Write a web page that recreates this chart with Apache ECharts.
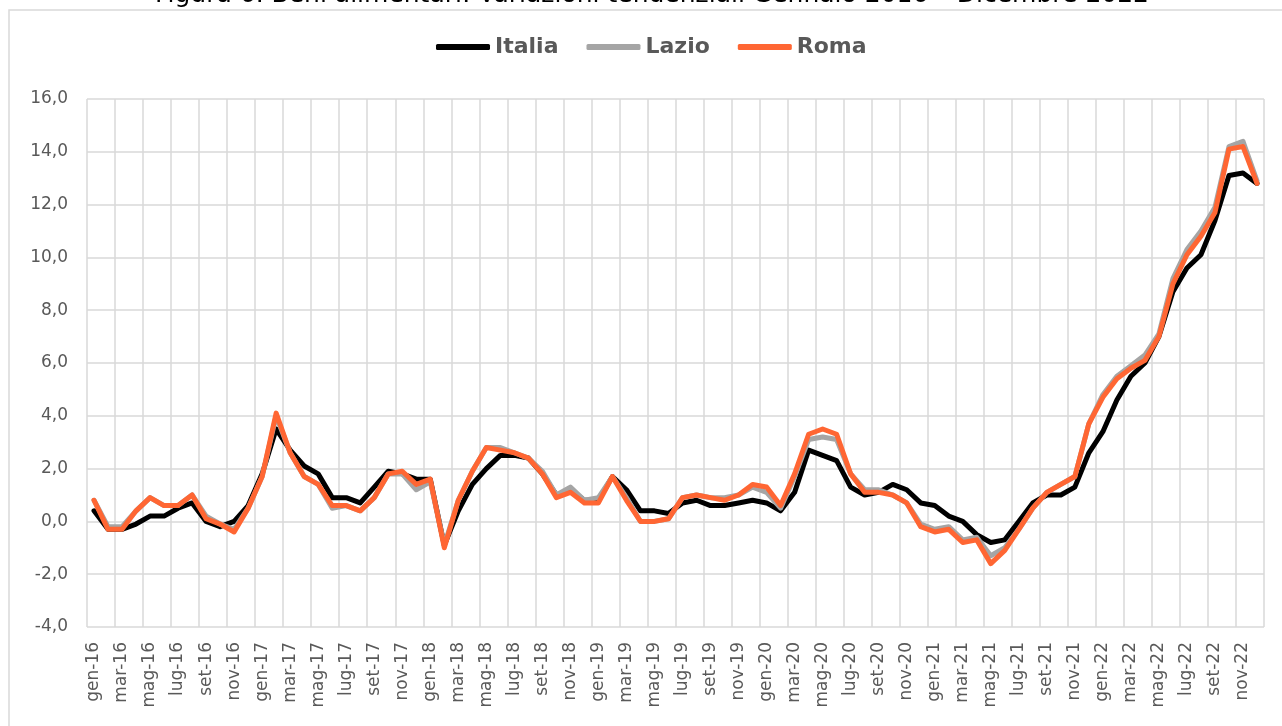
<!DOCTYPE html>
<html>
<head>
<meta charset="utf-8">
<script src="https://cdn.jsdelivr.net/npm/echarts@6/dist/echarts.min.js"></script>
<style>
html,body{margin:0;padding:0;background:#fff;}
#chart{width:1282px;height:726px;}
</style>
</head>
<body>
<div id="chart"></div>
<script>
const monthNames = ['gen','feb','mar','apr','mag','giu','lug','ago','set','ott','nov','dic'];
const years = ['16','17','18','19','20','21','22'];
const categories = [];
years.forEach(y => monthNames.forEach(m => categories.push(m + '-' + y)));

const titleText = 'Figura 6. Beni alimentari: Variazioni tendenziali Gennaio 2016 – Dicembre 2022';
const seriesNames = ['Italia', 'Lazio', 'Roma'];

const italia = [
  0.4, -0.3, -0.3, -0.1, 0.2, 0.2, 0.5, 0.7, 0.0, -0.2, 0.0, 0.6,
  1.8, 3.5, 2.7, 2.1, 1.8, 0.9, 0.9, 0.7, 1.3, 1.9, 1.8, 1.6,
  1.6, -0.9, 0.4, 1.4, 2.0, 2.5, 2.5, 2.4, 1.8, 1.0, 1.2, 0.8,
  0.8, 1.7, 1.2, 0.4, 0.4, 0.3, 0.7, 0.8, 0.6, 0.6, 0.7, 0.8,
  0.7, 0.4, 1.1, 2.7, 2.5, 2.3, 1.3, 1.0, 1.1, 1.4, 1.2, 0.7,
  0.6, 0.2, 0.0, -0.5, -0.8, -0.7, 0.0, 0.7, 1.0, 1.0, 1.3, 2.6,
  3.4, 4.6, 5.5, 6.0, 7.0, 8.7, 9.6, 10.1, 11.4, 13.1, 13.2, 12.8
];
const lazio = [
  0.8, -0.2, -0.2, 0.4, 0.9, 0.6, 0.6, 1.0, 0.2, -0.1, -0.3, 0.5,
  1.7, 4.0, 2.6, 1.7, 1.4, 0.5, 0.6, 0.4, 0.9, 1.8, 1.8, 1.2,
  1.5, -0.9, 0.8, 1.9, 2.8, 2.8, 2.6, 2.4, 1.9, 1.0, 1.3, 0.8,
  0.9, 1.7, 0.9, 0.0, 0.0, 0.1, 0.9, 1.0, 0.9, 0.9, 1.0, 1.3,
  1.1, 0.5, 1.7, 3.1, 3.2, 3.1, 1.8, 1.2, 1.2, 1.0, 0.7, -0.1,
  -0.3, -0.2, -0.7, -0.6, -1.3, -1.0, -0.3, 0.5, 1.1, 1.4, 1.7, 3.7,
  4.8, 5.5, 5.9, 6.3, 7.1, 9.2, 10.3, 11.0, 11.9, 14.2, 14.4, 12.9
];
const roma = [
  0.8, -0.3, -0.3, 0.4, 0.9, 0.6, 0.6, 1.0, 0.1, -0.1, -0.4, 0.5,
  1.7, 4.1, 2.6, 1.7, 1.4, 0.6, 0.6, 0.4, 0.9, 1.8, 1.9, 1.4,
  1.6, -1.0, 0.8, 1.9, 2.8, 2.7, 2.6, 2.4, 1.8, 0.9, 1.1, 0.7,
  0.7, 1.7, 0.8, 0.0, 0.0, 0.1, 0.9, 1.0, 0.9, 0.8, 1.0, 1.4,
  1.3, 0.6, 1.8, 3.3, 3.5, 3.3, 1.8, 1.1, 1.1, 1.0, 0.7, -0.2,
  -0.4, -0.3, -0.8, -0.7, -1.6, -1.1, -0.3, 0.5, 1.1, 1.4, 1.7, 3.7,
  4.7, 5.4, 5.8, 6.1, 7.0, 9.0, 10.1, 10.8, 11.7, 14.1, 14.2, 12.8
];

const colors = ['#000000', '#A5A5A5', '#FF6633'];
const fontFam = 'DejaVu Sans, Verdana, sans-serif';

const chart = echarts.init(document.getElementById('chart'), null, {renderer: 'canvas'});

function lineSeries(name, data, color) {
  return {
    name: name,
    type: 'line',
    data: data,
    symbol: 'none',
    smooth: false,
    lineStyle: {color: color, width: 5, cap: 'round', join: 'round'},
    itemStyle: {color: color},
    emphasis: {disabled: true}
  };
}

chart.setOption({
  animation: false,
  backgroundColor: '#ffffff',
  graphic: [
    {type: 'rect', shape: {x: 9, y: 10, width: 1300, height: 740},
     style: {fill: 'none', stroke: '#D9D9D9', lineWidth: 1.5}, silent: true},
    {type: 'text', x: 652, y: 8,
     style: {text: titleText, font: 'normal 25px ' + fontFam, fill: '#000000',
             textAlign: 'center', textVerticalAlign: 'bottom'}, silent: true}
  ],
  legend: {
    left: 431, top: 31,
    icon: 'roundRect',
    itemWidth: 54, itemHeight: 6,
    itemGap: 28, itemTextGap: 4,
    textStyle: {color: '#595959', fontSize: 22, fontWeight: 'bold', fontFamily: fontFam},
    data: seriesNames
  },
  grid: {left: 87, right: 18, top: 99, bottom: 99, containLabel: false},
  xAxis: {
    type: 'category',
    data: categories,
    boundaryGap: true,
    axisLine: {show: false},
    axisTick: {show: false, interval: 1},
    axisLabel: {interval: 1, rotate: 90, margin: 15, color: '#595959', fontSize: 17, fontFamily: fontFam},
    splitLine: {show: true, interval: 1, lineStyle: {color: '#D9D9D9', width: 1.5}}
  },
  yAxis: {
    type: 'value',
    min: -4, max: 16, interval: 2,
    axisLine: {show: false},
    axisTick: {show: false},
    axisLabel: {margin: 19, color: '#595959', fontSize: 17, fontFamily: fontFam,
                formatter: v => v.toFixed(1).replace('.', ',')},
    splitLine: {show: true, lineStyle: {color: '#D9D9D9', width: 1.5}}
  },
  series: [
    lineSeries(seriesNames[0], italia, colors[0]),
    lineSeries(seriesNames[1], lazio, colors[1]),
    lineSeries(seriesNames[2], roma, colors[2])
  ]
});
</script>
</body>
</html>
